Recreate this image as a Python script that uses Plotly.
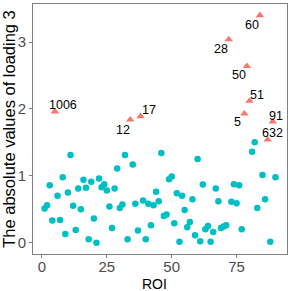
import plotly.graph_objects as go

roi = list(range(1, 91))
values = [0.51, 0.56, 0.86, 0.33, 1.96, 0.70, 0.34, 0.98, 0.13, 0.75,
          1.31, 0.55, 0.19, 0.81, 0.50, 0.94, 0.82, 0.05, 0.91, 0.36,
          0.00, 0.96, 0.83, 0.875, 0.78, 0.54, 0.22, 0.81, 1.11, 0.52,
          0.57, 1.31, 0.05, 1.84, 1.17, 0.58, 0.18, 1.89, 0.63, 0.05,
          0.58, 0.26, 0.56, 0.76, 0.62, 1.34, 0.40, 0.42, 0.95, 0.99,
          0.29, 0.74, 0.015, 0.70, 0.49, 0.23, 0.31, 0.65, 0.11, 1.25,
          0.02, 0.87, 0.20, 0.25, 0.015, 0.16, 0.81, 0.62, 0.22, 0.24,
          0.26, 3.04, 0.61, 0.875, 0.59, 0.86, 0.20, 1.93, 2.64, 2.12,
          1.36, 1.50, 0.52, 3.40, 1.01, 0.65, 1.54, 0.015, 1.81, 0.98]
highlight_roi = [5, 34, 38, 72, 78, 79, 80, 84, 87, 89]
highlight_labels = ["1006", "12", "17", "28", "5", "50", "51", "60", "632", "91"]
label_shift = {"1006": (8, 7), "12": (-7, -10), "17": (8, 6), "28": (-8, -10),
               "5": (-7, -8), "50": (-8, -9), "51": (7, 6), "60": (-8, -10),
               "632": (5, 7), "91": (3, 6)}

x_ticks = [0, 25, 50, 75]
y_ticks = [0, 1, 2, 3]
x_title = "ROI"
y_title = "The absolute values of loading 3"

norm_x = [r for r in roi if r not in highlight_roi]
norm_y = [values[r - 1] for r in norm_x]
hi_y = [values[r - 1] for r in highlight_roi]

FONT = "Liberation Sans, Arial"

fig = go.Figure()
fig.add_trace(go.Scatter(x=norm_x, y=norm_y, mode="markers",
                         marker=dict(color="#00BFC4", size=6.5, symbol="circle"),
                         showlegend=False, cliponaxis=False))
fig.add_trace(go.Scatter(x=highlight_roi, y=hi_y, mode="markers",
                         marker=dict(color="#F8766D", size=7.5, symbol="triangle-up"),
                         showlegend=False, cliponaxis=False))

for r, lab in zip(highlight_roi, highlight_labels):
    dx, dy = label_shift[lab]
    fig.add_annotation(x=r, y=values[r - 1], text=lab, showarrow=False,
                       xshift=dx, yshift=dy,
                       font=dict(family=FONT, size=12.5, color="black"))

fig.add_annotation(xref="paper", yref="paper", x=0.48, y=-0.08, text=x_title,
                   showarrow=False, xanchor="center", yanchor="top",
                   font=dict(family=FONT, size=14, color="black"))

axis_common = dict(showgrid=False, zeroline=False, showline=True, mirror=True,
                   linecolor="#808080", linewidth=1, ticks="outside", ticklen=3,
                   tickcolor="#808080", automargin=True,
                   tickfont=dict(family=FONT, size=15, color="#4D4D4D"))

fig.update_layout(
    width=291, height=291,
    margin=dict(l=33, r=4, t=4, b=37, autoexpand=False),
    plot_bgcolor="white", paper_bgcolor="white",
    xaxis=dict(range=[-3.45, 94.45], tickvals=x_ticks, ticklabelstandoff=-4,
               **axis_common),
    yaxis=dict(range=[-0.17, 3.57], tickvals=y_ticks,
               title=dict(text=y_title, standoff=3,
                          font=dict(family=FONT, size=16.5, color="black")),
               **axis_common),
)

fig.write_html("out.html", config={"displayModeBar": False},
               post_script="document.body.style.margin='0';")
